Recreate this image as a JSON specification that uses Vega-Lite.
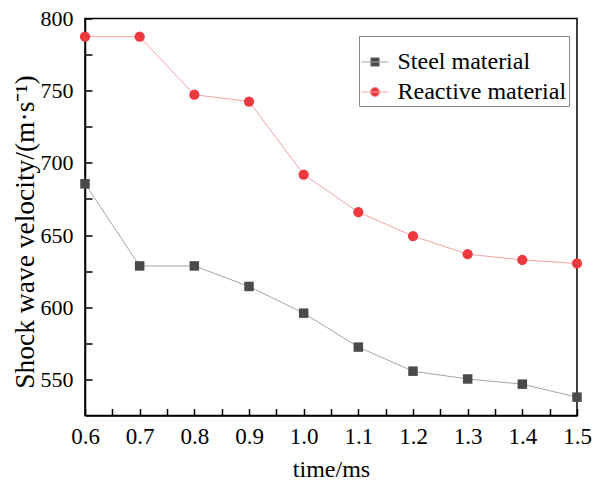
{
  "$schema": "https://vega.github.io/schema/vega-lite/v6.json",
  "width": 492,
  "height": 397,
  "autosize": {"type": "none"},
  "padding": {"left": 85, "top": 18.5, "right": 16, "bottom": 71.5},
  "background": "white",
  "config": {
    "view": {"stroke": "black", "strokeWidth": 1.5},
    "font": "Liberation Serif"
  },
  "data": {
    "values": [
      {"time": 0.6, "v": 685.5, "series": "Steel material"},
      {"time": 0.7, "v": 628.6, "series": "Steel material"},
      {"time": 0.8, "v": 628.6, "series": "Steel material"},
      {"time": 0.9, "v": 614.4, "series": "Steel material"},
      {"time": 1.0, "v": 595.9, "series": "Steel material"},
      {"time": 1.1, "v": 572.4, "series": "Steel material"},
      {"time": 1.2, "v": 555.7, "series": "Steel material"},
      {"time": 1.3, "v": 550.3, "series": "Steel material"},
      {"time": 1.4, "v": 546.7, "series": "Steel material"},
      {"time": 1.5, "v": 537.7, "series": "Steel material"},
      {"time": 0.6, "v": 787.4, "series": "Reactive material"},
      {"time": 0.7, "v": 787.4, "series": "Reactive material"},
      {"time": 0.8, "v": 747.2, "series": "Reactive material"},
      {"time": 0.9, "v": 742.5, "series": "Reactive material"},
      {"time": 1.0, "v": 691.9, "series": "Reactive material"},
      {"time": 1.1, "v": 665.9, "series": "Reactive material"},
      {"time": 1.2, "v": 649.3, "series": "Reactive material"},
      {"time": 1.3, "v": 636.7, "series": "Reactive material"},
      {"time": 1.4, "v": 632.8, "series": "Reactive material"},
      {"time": 1.5, "v": 630.3, "series": "Reactive material"}
    ]
  },
  "encoding": {
    "x": {
      "field": "time", "type": "quantitative",
      "scale": {"domain": [0.6, 1.5], "nice": false, "zero": false},
      "axis": {
        "orient": "bottom",
        "values": [0.6, 0.65, 0.7, 0.75, 0.8, 0.85, 0.9, 0.95, 1.0, 1.05, 1.1, 1.15, 1.2, 1.25, 1.3, 1.35, 1.4, 1.45, 1.5],
        "labelExpr": "round(datum.value * 100) % 10 == 5 ? '' : format(datum.value, '.1f')",
        "grid": false, "ticks": true,
        "tickSize": -7,
        "tickWidth": 1.5, "tickColor": "black",
        "domainColor": "black", "domainWidth": 1.5,
        "labelFont": "Liberation Serif", "labelFontSize": 23, "labelColor": "black",
        "labelPadding": 17, "labelFlush": false, "labelOverlap": false,
        "title": "time/ms", "titleFont": "Liberation Serif", "titleFontSize": 24,
        "titleFontWeight": "normal", "titleColor": "black",
        "titleY": 61, "titleBaseline": "alphabetic"
      }
    },
    "y": {
      "field": "v", "type": "quantitative",
      "scale": {"domain": [525, 800], "nice": false, "zero": false},
      "axis": {
        "orient": "left",
        "values": [550, 575, 600, 625, 650, 675, 700, 725, 750, 775, 800],
        "labelExpr": "datum.value % 50 == 25 ? '' : datum.label",
        "grid": false, "ticks": true,
        "tickSize": -7,
        "tickWidth": 1.5, "tickColor": "black",
        "domainColor": "black", "domainWidth": 1.5,
        "labelFont": "Liberation Serif", "labelFontSize": 22, "labelColor": "black",
        "labelPadding": 19, "labelFlush": false, "labelOverlap": false,
        "title": "Shock wave velocity/(m·s⁻¹)", "titleFont": "Liberation Serif",
        "titleFontSize": 27.5, "titleFontWeight": "normal", "titleColor": "black",
        "titleX": -52, "titleY": 213, "titleAlign": "center", "titleBaseline": "alphabetic"
      }
    }
  },
  "layer": [
    {
      "mark": {"type": "line", "strokeWidth": 1},
      "encoding": {
        "stroke": {
          "field": "series", "type": "nominal",
          "scale": {"domain": ["Steel material", "Reactive material"], "range": ["#a6a6a6", "#f4a3a3"]},
          "legend": {
            "orient": "none", "legendX": 274, "legendY": 17.5,
            "title": " ", "titleFontSize": 8, "titlePadding": 4,
            "strokeColor": "#888888", "fillColor": "white", "padding": 2,
            "labelFont": "Liberation Serif", "labelFontSize": 24, "labelColor": "black",
            "labelLimit": 400, "labelOffset": 12.5, "rowPadding": 6,
            "symbolSize": 100, "symbolStrokeWidth": 1,
            "encode": {
              "symbols": {
                "update": {
                  "shape": {"signal": "datum.value === 'Steel material' ? 'M-2.3,0H3.1M-0.47,-0.87H1.27V0.87H-0.47Z' : 'M-2.3,0H3.1M1.33,0A0.93,0.93,0,1,1,-0.53,0A0.93,0.93,0,1,1,1.33,0Z'"},
                  "fill": {"signal": "datum.value === 'Steel material' ? '#4a4a4a' : '#ee3a3f'"},
                  "size": {"value": 100},
                  "strokeWidth": {"value": 1},
                  "opacity": {"value": 1}
                }
              }
            }
          }
        }
      }
    },
    {
      "mark": {"type": "point", "filled": true, "opacity": 1, "strokeWidth": 0},
      "encoding": {
        "fill": {
          "field": "series", "type": "nominal",
          "scale": {"domain": ["Steel material", "Reactive material"], "range": ["#4a4a4a", "#ee3a3f"]},
          "legend": null
        },
        "shape": {
          "condition": {"test": "datum.series === 'Steel material'", "value": "square"},
          "value": "circle"
        },
        "size": {
          "condition": {"test": "datum.series === 'Steel material'", "value": 90},
          "value": 105
        }
      }
    }
  ]
}
